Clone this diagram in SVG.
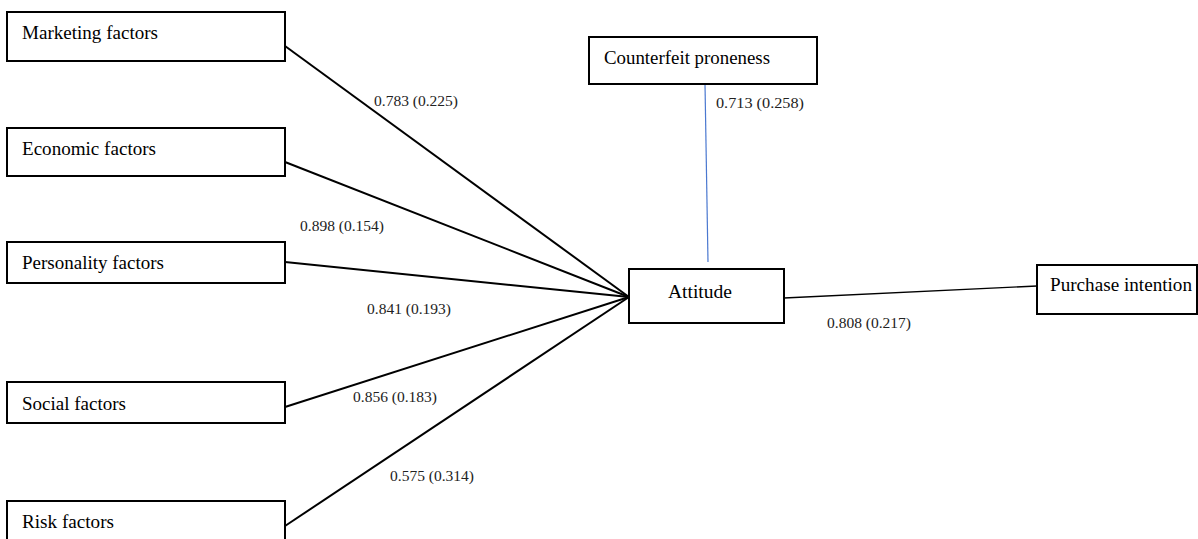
<svg xmlns="http://www.w3.org/2000/svg" width="1198" height="539" viewBox="0 0 1198 539">
<style>
.box{fill:#fff;stroke:#000;stroke-width:2}
.t{font-family:"Liberation Serif",serif;font-size:18.5px;fill:#000}
.l{font-family:"Liberation Serif",serif;font-size:15px;fill:#222}
.c{stroke:#000;stroke-width:2;fill:none}
</style>
<rect width="1198" height="539" fill="#fff"/>
<g id="connectors">
<line class="c" x1="285" y1="46" x2="629" y2="297"/>
<line class="c" x1="285" y1="162" x2="629" y2="297"/>
<line class="c" x1="285" y1="262" x2="629" y2="297"/>
<line class="c" x1="285" y1="407" x2="629" y2="297"/>
<line class="c" x1="285" y1="526" x2="629" y2="297"/>
<line x1="705" y1="84" x2="708" y2="262" stroke="#4a78d0" stroke-width="1.2"/>
<line x1="784" y1="298" x2="1037" y2="286" stroke="#000" stroke-width="1.3"/>
<text class="l" x="374" y="106" textLength="84" lengthAdjust="spacingAndGlyphs">0.783 (0.225)</text>
<text class="l" x="300" y="231" textLength="84" lengthAdjust="spacingAndGlyphs">0.898 (0.154)</text>
<text class="l" x="367" y="314" textLength="84" lengthAdjust="spacingAndGlyphs">0.841 (0.193)</text>
<text class="l" x="353" y="402" textLength="84" lengthAdjust="spacingAndGlyphs">0.856 (0.183)</text>
<text class="l" x="390" y="481" textLength="84" lengthAdjust="spacingAndGlyphs">0.575 (0.314)</text>
<text class="l" x="716" y="108" textLength="88" lengthAdjust="spacingAndGlyphs">0.713  (0.258)</text>
<text class="l" x="827" y="328" textLength="84" lengthAdjust="spacingAndGlyphs">0.808 (0.217)</text>
</g>
<g id="marketing"><rect class="box" x="7" y="12" width="278" height="49"/><text class="t" x="22" y="39" textLength="136" lengthAdjust="spacingAndGlyphs">Marketing factors</text></g>
<g id="economic"><rect class="box" x="7" y="128" width="278" height="48"/><text class="t" x="22" y="155" textLength="134" lengthAdjust="spacingAndGlyphs">Economic factors</text></g>
<g id="personality"><rect class="box" x="7" y="242" width="278" height="41"/><text class="t" x="22" y="269" textLength="142" lengthAdjust="spacingAndGlyphs">Personality factors</text></g>
<g id="social"><rect class="box" x="7" y="382" width="278" height="41"/><text class="t" x="22" y="410" textLength="104" lengthAdjust="spacingAndGlyphs">Social factors</text></g>
<g id="risk"><rect class="box" x="7" y="501" width="278" height="45"/><text class="t" x="22" y="528" textLength="92" lengthAdjust="spacingAndGlyphs">Risk factors</text></g>
<g id="counterfeit"><rect class="box" x="589" y="37" width="228" height="47"/><text class="t" x="604" y="64" textLength="166" lengthAdjust="spacingAndGlyphs">Counterfeit proneness</text></g>
<g id="attitude"><rect class="box" x="629" y="269" width="155" height="54"/><text class="t" x="668" y="298" textLength="64" lengthAdjust="spacingAndGlyphs">Attitude</text></g>
<g id="purchase"><rect class="box" x="1037" y="265" width="160" height="49"/><text class="t" x="1050" y="291" textLength="142" lengthAdjust="spacingAndGlyphs">Purchase intention</text></g>
</svg>
